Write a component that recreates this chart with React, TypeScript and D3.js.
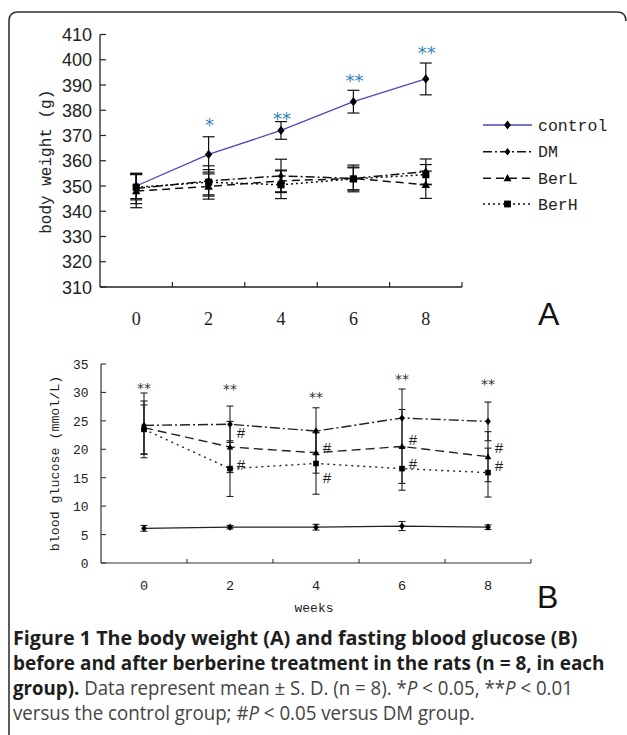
import React, { useMemo } from "react";
import * as d3 from "d3";

const weeks = ["0", "2", "4", "6", "8"];
const seriesNames = ["control", "DM", "BerL", "BerH"];

// Panel A: body weight (g)
const bwTicks = [310, 320, 330, 340, 350, 360, 370, 380, 390, 400, 410];
const bwControl = [350, 362.5, 372, 383.4, 392.4];
const bwControlSD = [5, 7, 3.5, 4.5, 6.3];
const bwDM = [349, 352, 354, 353, 355.7];
const bwDMSD = [6, 6, 6.6, 5.3, 5];
const bwBerL = [348, 349.8, 352, 353, 350.5];
const bwBerLSD = [6.6, 5, 4.3, 4.5, 5.4];
const bwBerH = [349.5, 351.5, 350.5, 352.8, 354.5];
const bwBerHSD = [5, 5, 5.5, 4.4, 4];
const bwSig = ["", "*", "**", "**", "**"];
const bwSigLevel = [0, 376, 378.5, 393.5, 404.5];

// Panel B: blood glucose (mmol/L)
const bgTicks = [0, 5, 10, 15, 20, 25, 30, 35];
const bgControl = [6.1, 6.3, 6.3, 6.5, 6.3];
const bgControlSD = [0.5, 0.3, 0.5, 0.8, 0.4];
const bgDM = [24.2, 24.4, 23.2, 25.5, 24.9];
const bgDMSD = [5.7, 3.2, 4.1, 5.1, 3.4];
const bgBerL = [23.8, 20.4, 19.4, 20.5, 18.7];
const bgBerLSD = [4.7, 4.5, 3.6, 6.5, 4.4];
const bgBerH = [23.5, 16.6, 17.5, 16.6, 15.9];
const bgBerHSD = [4.3, 4.9, 5.4, 3.8, 4.3];
const bgSig = ["**", "**", "**", "**", "**"];
const bgSigLevel = [31.3, 31.2, 29.8, 33.0, 32.0];
const bgHashBerL = [null, 22.9, 20.3, 21.8, 20.3];
const bgHashBerH = [null, 17.4, 15.1, 17.5, 17.2];

// Caption
const captionLine1 = "Figure 1 The body weight (A) and fasting blood glucose (B)";
const captionLine2 = "before and after berberine treatment in the rats (n = 8, in each";
const captionLine3 = [
  { t: "group).", b: true, i: false },
  { t: " Data represent mean ± S. D. (n = 8). *", b: false, i: false },
  { t: "P", b: false, i: true },
  { t: " < 0.05, **", b: false, i: false },
  { t: "P", b: false, i: true },
  { t: " < 0.01", b: false, i: false },
];
const captionLine4 = [
  { t: "versus the control group; #", b: false, i: false },
  { t: "P", b: false, i: true },
  { t: " < 0.05 versus DM group.", b: false, i: false },
];

const MONO = "'Liberation Mono', 'DejaVu Sans Mono', monospace";
const SERIF = "'Liberation Serif', serif";
const SANS = "'Liberation Sans', Arial, sans-serif";
const STAR = "'DejaVu Sans', sans-serif";
const CAP = "'Open Sans'";
const CAP_SIZE = 20;

type Shape = "diamond" | "triangle" | "square";

function Marker({ shape, x, y, s }: { shape: Shape; x: number; y: number; s: number }) {
  if (shape === "diamond") {
    const pts = [[x, y - s * 1.1], [x + s * 0.85, y], [x, y + s * 1.1], [x - s * 0.85, y]];
    return <polygon points={pts.map((p) => p.join(",")).join(" ")} fill="#000" />;
  }
  if (shape === "triangle") {
    const pts = [[x, y - s * 1.05], [x + s, y + s * 0.75], [x - s, y + s * 0.75]];
    return <polygon points={pts.map((p) => p.join(",")).join(" ")} fill="#000" />;
  }
  return <rect x={x - s * 0.85} y={y - s * 0.85} width={s * 1.7} height={s * 1.7} fill="#000" />;
}

const shapes: Shape[] = ["diamond", "diamond", "triangle", "square"];
const dashA = [null, "9,3,2,3", "8,5", "2,3"];
const dashB = [null, "10,3,2,3", "9,5", "2,4"];

type Seg = { t: string; b: boolean; i: boolean };

function measure(segs: Seg[]): number {
  try {
    const c = document.createElement("canvas");
    const ctx = c.getContext("2d");
    if (!ctx) return 0;
    let w = 0;
    for (const s of segs) {
      ctx.font = `${s.i ? "italic " : ""}${s.b ? "700 " : "400 "}${CAP_SIZE}px ${CAP}, sans-serif`;
      w += ctx.measureText(s.t).width;
    }
    return w;
  } catch (e) {
    return 0;
  }
}

function CaptionLine({ segs, x, y, target }: { segs: Seg[]; x: number; y: number; target: number }) {
  const natural = useMemo(() => measure(segs), [segs]);
  const sx = natural > 0 ? target / natural : 0.85;
  return (
    <g transform={`translate(${x},${y}) scale(${sx},1)`}>
      <text x={0} y={0} fontFamily={`${CAP}, sans-serif`} fontSize={CAP_SIZE} fill="#444">
        {segs.map((s, k) => (
          <tspan
            key={k}
            fontWeight={s.b ? 700 : 400}
            fontStyle={s.i ? "italic" : "normal"}
            fill={s.b ? "#1e1e1e" : "#444"}
          >
            {s.t}
          </tspan>
        ))}
      </text>
    </g>
  );
}

export default function App() {
  const xA = d3.scaleBand<string>().domain(weeks).range([100, 462]);
  const yA = d3.scaleLinear().domain([310, 410]).range([287, 34.5]);
  const xB = d3.scaleBand<string>().domain(weeks).range([101, 531]);
  const yB = d3.scaleLinear().domain([0, 35]).range([563, 364]);
  const cxA = (w: string) => (xA(w) as number) + xA.bandwidth() / 2;
  const cxB = (w: string) => (xB(w) as number) + xB.bandwidth() / 2;

  const bwSeries = [bwControl, bwDM, bwBerL, bwBerH];
  const bwSD = [bwControlSD, bwDMSD, bwBerLSD, bwBerHSD];
  const bgSeries = [bgControl, bgDM, bgBerL, bgBerH];
  const bgSD = [bgControlSD, bgDMSD, bgBerLSD, bgBerHSD];

  const lineA = (vals: number[]) =>
    d3.line<number>().x((_, i) => cxA(weeks[i])).y((v) => yA(v))(vals) || "";
  const lineB = (vals: number[]) =>
    d3.line<number>().x((_, i) => cxB(weeks[i])).y((v) => yB(v))(vals) || "";

  const legendY = [125, 151.7, 178.3, 204];

  return (
    <svg width={627} height={735} style={{ position: "absolute", left: 0, top: 0, background: "#fff" }}>
      <rect x={0} y={0} width={627} height={735} fill="#fff" />
      {/* frame */}
      <path d="M9,735 L9,21 Q9,12 18,12 L617,12 Q626,12 626,21" fill="none" stroke="#333" strokeWidth={1.6} />

      {/* ---------- Panel A ---------- */}
      <g>
        <line x1={100} x2={100} y1={yA(410)} y2={yA(310)} stroke="#222" strokeWidth={1.3} />
        <line x1={100} x2={462} y1={yA(310)} y2={yA(310)} stroke="#222" strokeWidth={1.3} />
        {bwTicks.map((t) => (
          <g key={t}>
            <line x1={100} x2={106} y1={yA(t)} y2={yA(t)} stroke="#222" strokeWidth={1.2} />
            <text x={92} y={yA(t) + 6.5} textAnchor="end" fontFamily={SANS} fontSize={18} fill="#222">
              {t}
            </text>
          </g>
        ))}
        {[...weeks.map((w) => xA(w) as number), 462].slice(1).map((x, i) => (
          <line key={i} x1={x} x2={x} y1={yA(310)} y2={yA(310) - 5} stroke="#222" strokeWidth={1.2} />
        ))}
        {weeks.map((w) => (
          <text key={w} x={cxA(w)} y={325} textAnchor="middle" fontFamily={SERIF} fontSize={18} fill="#222">
            {w}
          </text>
        ))}
        <text
          transform={`translate(51,${(yA(410) + yA(310)) / 2 + 1}) rotate(-90)`}
          textAnchor="middle"
          fontFamily={MONO}
          fontSize={16}
          fill="#222"
        >
          body weight (g)
        </text>

        {/* error bars */}
        {bwSeries.map((vals, si) =>
          vals.map((v, i) => {
            const x = cxA(weeks[i]);
            const t = yA(v + bwSD[si][i]);
            const b = yA(v - bwSD[si][i]);
            return (
              <g key={`ea${si}-${i}`} stroke="#111" strokeWidth={1.2}>
                <line x1={x} x2={x} y1={t} y2={b} />
                <line x1={x - 6} x2={x + 6} y1={t} y2={t} />
                <line x1={x - 6} x2={x + 6} y1={b} y2={b} />
              </g>
            );
          })
        )}
        {/* lines */}
        {bwSeries.map((vals, si) => (
          <path
            key={`la${si}`}
            d={lineA(vals)}
            fill="none"
            stroke={si === 0 ? "#4848c0" : "#111"}
            strokeWidth={si === 0 ? 1.3 : 1.5}
            strokeDasharray={dashA[si] || undefined}
          />
        ))}
        {/* markers */}
        {bwSeries.map((vals, si) =>
          vals.map((v, i) => (
            <Marker key={`ma${si}-${i}`} shape={shapes[si]} x={cxA(weeks[i])} y={yA(v)} s={si === 1 ? 3.6 : 4.2} />
          ))
        )}
        {/* significance */}
        {bwSig.map((s, i) =>
          s ? (
            <text
              key={`sa${i}`}
              x={cxA(weeks[i]) + 1}
              y={yA(bwSigLevel[i]) + 10.6}
              textAnchor="middle"
              fontFamily={STAR}
              fontSize={18}
              fill="#2f86b8"
            >
              {s}
            </text>
          ) : null
        )}
        {/* legend */}
        {seriesNames.map((n, si) => (
          <g key={`lg${si}`}>
            <line
              x1={483}
              x2={532}
              y1={legendY[si]}
              y2={legendY[si]}
              stroke={si === 0 ? "#4848c0" : "#111"}
              strokeWidth={si === 0 ? 1.3 : 1.5}
              strokeDasharray={dashA[si] || undefined}
            />
            <Marker shape={shapes[si]} x={507.5} y={legendY[si]} s={si === 1 ? 3.4 : 4} />
            <text x={538} y={legendY[si] + 5.5} fontFamily={MONO} fontSize={16.5} fill="#222">
              {n}
            </text>
          </g>
        ))}
        <text x={538} y={325} fontFamily={SANS} fontSize={32} fill="#111">
          A
        </text>
      </g>

      {/* ---------- Panel B ---------- */}
      <g>
        <line x1={101} x2={101} y1={yB(35)} y2={yB(0)} stroke="#333" strokeWidth={1.2} />
        <line x1={101} x2={531} y1={yB(0)} y2={yB(0)} stroke="#333" strokeWidth={1.2} />
        {bgTicks.map((t) => (
          <g key={t}>
            <line x1={101} x2={106} y1={yB(t)} y2={yB(t)} stroke="#333" strokeWidth={1.1} />
            <text x={88.5} y={yB(t) + 5} textAnchor="end" fontFamily={MONO} fontSize={13} fill="#222">
              {t}
            </text>
          </g>
        ))}
        {[...weeks.map((w) => xB(w) as number), 531].slice(1).map((x, i) => (
          <line key={i} x1={x} x2={x} y1={yB(0)} y2={yB(0) - 4} stroke="#333" strokeWidth={1.1} />
        ))}
        {weeks.map((w) => (
          <text key={w} x={cxB(w)} y={590} textAnchor="middle" fontFamily={MONO} fontSize={13.5} fill="#222">
            {w}
          </text>
        ))}
        <text x={314} y={612} textAnchor="middle" fontFamily={MONO} fontSize={13} fill="#222">
          weeks
        </text>
        <text
          transform={`translate(59,${(yB(35) + yB(0)) / 2}) rotate(-90)`}
          textAnchor="middle"
          fontFamily={MONO}
          fontSize={13.3}
          fill="#222"
        >
          blood glucose (mmol/L)
        </text>

        {bgSeries.map((vals, si) =>
          vals.map((v, i) => {
            const x = cxB(weeks[i]);
            const t = yB(v + bgSD[si][i]);
            const b = yB(v - bgSD[si][i]);
            return (
              <g key={`eb${si}-${i}`} stroke="#222" strokeWidth={1.1}>
                <line x1={x} x2={x} y1={t} y2={b} />
                <line x1={x - 3.5} x2={x + 3.5} y1={t} y2={t} />
                <line x1={x - 3.5} x2={x + 3.5} y1={b} y2={b} />
              </g>
            );
          })
        )}
        {bgSeries.map((vals, si) => (
          <path
            key={`lb${si}`}
            d={lineB(vals)}
            fill="none"
            stroke="#222"
            strokeWidth={si === 0 ? 1.2 : 1.4}
            strokeDasharray={dashB[si] || undefined}
          />
        ))}
        {bgSeries.map((vals, si) =>
          vals.map((v, i) => (
            <Marker key={`mb${si}-${i}`} shape={shapes[si]} x={cxB(weeks[i])} y={yB(v)} s={3.3} />
          ))
        )}
        {bgSig.map((s, i) => (
          <text
            key={`sb${i}`}
            x={cxB(weeks[i])}
            y={yB(bgSigLevel[i]) + 8.3}
            textAnchor="middle"
            fontFamily={STAR}
            fontSize={14}
            fill="#333"
          >
            {s}
          </text>
        ))}
        {[bgHashBerL, bgHashBerH].map((arr, k) =>
          arr.map((v, i) =>
            v === null ? null : (
              <text
                key={`h${k}-${i}`}
                x={cxB(weeks[i]) + 11}
                y={yB(v) + 5.5}
                textAnchor="middle"
                fontFamily={MONO}
                fontSize={15}
                fill="#222"
              >
                #
              </text>
            )
          )
        )}
        <text x={537} y={608} fontFamily={SANS} fontSize={32} fill="#111">
          B
        </text>
      </g>

      {/* ---------- Caption ---------- */}
      <CaptionLine segs={[{ t: captionLine1, b: true, i: false }]} x={13} y={645} target={565} />
      <CaptionLine segs={[{ t: captionLine2, b: true, i: false }]} x={13} y={670} target={592} />
      <CaptionLine segs={captionLine3} x={13} y={695} target={560} />
      <CaptionLine segs={captionLine4} x={13} y={720} target={462} />
    </svg>
  );
}
